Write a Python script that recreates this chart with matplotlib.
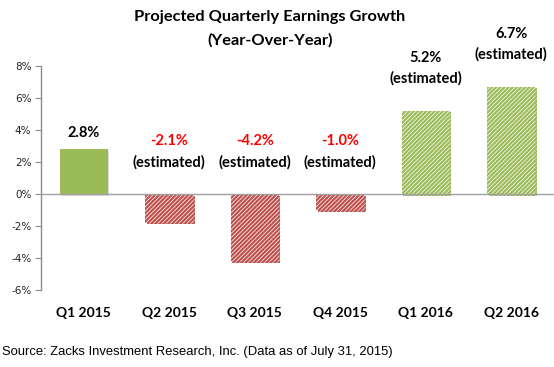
import matplotlib
matplotlib.use("Agg")
import matplotlib.pyplot as plt
import matplotlib.patheffects as pe

quarters = ["Q1 2015", "Q2 2015", "Q3 2015", "Q4 2015", "Q1 2016", "Q2 2016"]
bar_values = [2.8, -1.8, -4.2, -1.0, 5.2, 6.7]
value_labels = ["2.8%", "-2.1%", "-4.2%", "-1.0%", "5.2%", "6.7%"]
estimated = [False, True, True, True, True, True]
y_ticks = [-6, -4, -2, 0, 2, 4, 6, 8]
y_tick_labels = ["-6%", "-4%", "-2%", "0%", "2%", "4%", "6%", "8%"]

GREEN = "#9BBB59"
RED = "#C0504D"
LABEL_FONT = ["Lato", "DejaVu Sans"]

plt.rcParams["hatch.linewidth"] = 1.6

fig = plt.figure(figsize=(5.54, 3.67), dpi=100)
ax = fig.add_axes([41/554, 1-290/367, 1-41/554, (290-66)/367])

x = list(range(len(quarters)))
shadow = [pe.SimplePatchShadow(offset=(1.2, -1.2), shadow_rgbFace="#999999", alpha=0.35), pe.Normal()]
for i, v in enumerate(bar_values):
    col = GREEN if v >= 0 else RED
    if estimated[i]:
        b = ax.bar(x[i], v, width=0.56, color="white", edgecolor=col, hatch="////////", linewidth=0)
    else:
        b = ax.bar(x[i], v, width=0.56, color=col, linewidth=0)
    for p in b:
        p.set_path_effects(shadow)

ax.axhline(0, color="#A0A0A0", linewidth=1.0, zorder=3)
ax.set_xlim(-0.5, 5.5)
ax.set_ylim(-6, 8)

# data labels
px = 72/100
for i, v in enumerate(bar_values):
    anchor = v if v > 0 else 0
    lab_col = "black" if v > 0 else "#FF0000"
    if estimated[i]:
        ax.annotate(value_labels[i], (x[i], anchor), xytext=(0, 53*px), textcoords="offset points",
                    ha="center", va="center", fontsize=10.5, fontweight="bold", color=lab_col, family=LABEL_FONT)
        ax.annotate("(estimated)", (x[i], anchor), xytext=(0, 32*px), textcoords="offset points",
                    ha="center", va="center", fontsize=10.5, fontweight="bold", color="black", family=LABEL_FONT)
    else:
        ax.annotate(value_labels[i], (x[i], anchor), xytext=(0, 16*px), textcoords="offset points",
                    ha="center", va="center", fontsize=10.5, fontweight="bold", color=lab_col, family=LABEL_FONT)

for s in ["top", "right", "bottom"]:
    ax.spines[s].set_visible(False)
ax.spines["left"].set_color("#8C8C8C")
ax.spines["left"].set_linewidth(1.0)

ax.set_yticks(y_ticks)
ax.set_yticklabels(y_tick_labels, fontsize=7.5, color="#222222")
ax.tick_params(axis="y", direction="out", length=4, color="#8C8C8C", pad=3)
ax.set_xticks(x)
ax.set_xticklabels(quarters, fontsize=10, fontweight="bold", family=LABEL_FONT)
ax.tick_params(axis="x", length=0, pad=12)

fig.text(0.487, 1-17/367, "Projected Quarterly Earnings Growth", ha="center", va="center",
         fontsize=11.8, fontweight="bold", family=LABEL_FONT)
fig.text(0.487, 1-40/367, "(Year-Over-Year)", ha="center", va="center",
         fontsize=11.8, fontweight="bold", family=LABEL_FONT)
fig.text(2/554, 1-352/367, "Source: Zacks Investment Research, Inc. (Data as of July 31, 2015)",
         ha="left", va="center", fontsize=9.4, family=["Liberation Sans", "DejaVu Sans"])

fig.savefig("out.png", dpi=100)
